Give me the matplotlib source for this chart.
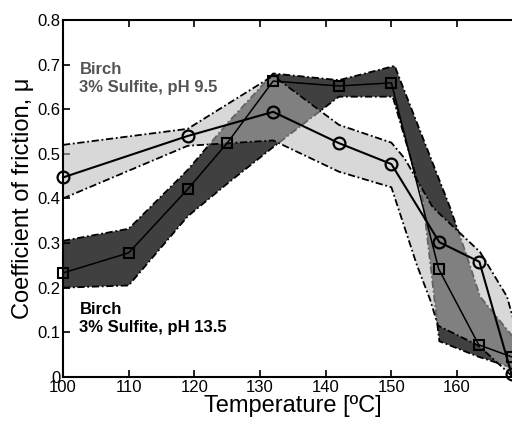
import numpy as np
import matplotlib
matplotlib.use("Agg")
import matplotlib.pyplot as plt

plt.rcParams['font.family'] = ['Liberation Sans', 'DejaVu Sans']

# pH 9.5 series (circles)
temp_95 = [100, 119, 132, 142, 150, 157.3, 163.4, 168.3]
mu_95 = [0.447, 0.540, 0.594, 0.524, 0.477, 0.302, 0.258, 0.006]

# pH 13.5 series (squares)
temp_135 = [100, 110, 119, 125, 132, 142, 150, 157.2, 163.3, 168.3]
mu_135 = [0.233, 0.278, 0.421, 0.524, 0.663, 0.652, 0.659, 0.242, 0.072, 0.045]

# spread bands, pH 9.5 (light)
band95_up_x = [100, 119, 132, 142, 150, 152, 156.3, 160.4, 163.5, 167.6, 169.5]
band95_up_y = [0.52, 0.556, 0.675, 0.565, 0.525, 0.49, 0.38, 0.323, 0.28, 0.18, 0.08]
band95_lo_x = [100, 119, 132, 142, 150, 153.9, 155.9, 157.1, 163.3, 168.5]
band95_lo_y = [0.40, 0.518, 0.53, 0.46, 0.425, 0.25, 0.173, 0.115, 0.07, 0.0]

# spread bands, pH 13.5 (dark)
band135_up_x = [100, 110, 119, 125, 132, 142, 150.5, 158.9, 161.6, 163.5, 168.5]
band135_up_y = [0.305, 0.332, 0.464, 0.568, 0.68, 0.665, 0.697, 0.381, 0.266, 0.18, 0.09]
band135_lo_x = [100, 110, 119, 125, 132, 142, 150.2, 154.8, 157.3, 163.3, 168.5]
band135_lo_y = [0.20, 0.205, 0.36, 0.433, 0.515, 0.628, 0.628, 0.397, 0.08, 0.045, 0.02]

x_ticks = [100, 110, 120, 130, 140, 150, 160, 170]
x_ticklabels = ["100", "110", "120", "130", "140", "150", "160", ""]
y_ticks = [0, 0.1, 0.2, 0.3, 0.4, 0.5, 0.6, 0.7, 0.8]
y_ticklabels = ["0", "0.1", "0.2", "0.3", "0.4", "0.5", "0.6", "0.7", "0.8"]


def band(ax, xu, yu, xl, yl, face, alpha, z):
    px = list(xu) + list(xl)[::-1]
    py = list(yu) + list(yl)[::-1]
    ax.fill(px, py, facecolor=face, alpha=alpha, edgecolor="none", zorder=z)
    ax.plot(xu, yu, color="black", lw=1.3, ls=(0, (4, 1.5, 1, 1.5)), zorder=z + 0.1)
    ax.plot(xl, yl, color="black", lw=1.3, ls=(0, (4, 1.5, 1, 1.5)), zorder=z + 0.1)


fig = plt.figure(figsize=(5.12, 4.24), dpi=100)
ax = fig.add_axes([0.123, 0.111, 0.898, 0.842])

band(ax, band135_up_x, band135_up_y, band135_lo_x, band135_lo_y, "#404040", 1.0, 1)
band(ax, band95_up_x, band95_up_y, band95_lo_x, band95_lo_y, "#b7b7b7", 0.54, 2)

ax.plot(temp_135, mu_135, color="black", lw=1.1, marker="s", ms=7,
        mfc="none", mec="black", mew=1.5, zorder=4, clip_on=False)
ax.plot(temp_95, mu_95, color="black", lw=1.5, marker="o", ms=8.5,
        mfc="none", mec="black", mew=1.6, zorder=5, clip_on=False)

ax.text(102.5, 0.705, "Birch\n3% Sulfite, pH 9.5", color="#555555",
        fontsize=12, fontweight="bold", va="top", ha="left", linespacing=1.25)
ax.text(102.5, 0.168, "Birch\n3% Sulfite, pH 13.5", color="black",
        fontsize=12, fontweight="bold", va="top", ha="left", linespacing=1.25)

ax.set_xlim(100, 170)
ax.set_ylim(0, 0.8)
ax.set_xticks(x_ticks)
ax.set_xticklabels(x_ticklabels)
ax.set_yticks(y_ticks)
ax.set_yticklabels(y_ticklabels)
ax.tick_params(direction="in", length=5, width=1.2, labelsize=12, pad=2,
               top=True, right=True)
for s in ax.spines.values():
    s.set_linewidth(1.5)

ax.set_xlabel("Temperature [ºC]", fontsize=17, labelpad=0)
ax.set_ylabel("Coefficient of friction, μ", fontsize=17, labelpad=2)

fig.savefig("out.png", dpi=100)
